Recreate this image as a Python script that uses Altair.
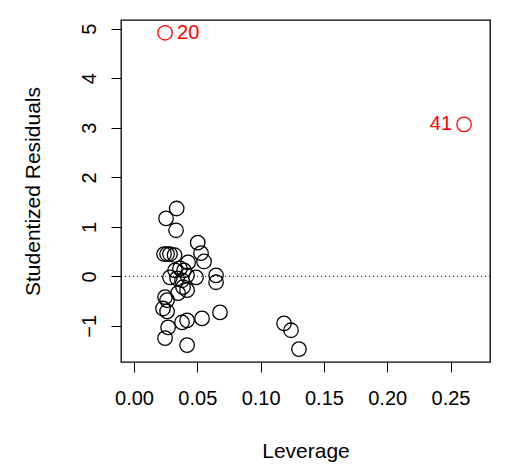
import altair as alt
import pandas as pd

# Ordinary observations
lev = [0.0337, 0.0253, 0.0332, 0.0503, 0.0529, 0.0553,
       0.0237, 0.0261, 0.0284, 0.0320, 0.0427,
       0.0324, 0.0363, 0.0395, 0.0419, 0.0284, 0.0340, 0.0379, 0.0490, 0.0648, 0.0648,
       0.0245, 0.0261, 0.0229, 0.0261, 0.0348, 0.0419, 0.0387,
       0.0269, 0.0379, 0.0419, 0.0537, 0.0679, 0.0245, 0.0419,
       0.1185, 0.1240, 0.1303]
res = [1.37, 1.17, 0.93, 0.68, 0.47, 0.30,
       0.45, 0.45, 0.45, 0.43, 0.28,
       0.12, 0.16, 0.12, 0.02, -0.02, -0.04, -0.08, -0.02, 0.02, -0.12,
       -0.42, -0.48, -0.65, -0.71, -0.34, -0.28, -0.22,
       -1.03, -0.93, -0.89, -0.85, -0.73, -1.25, -1.39,
       -0.95, -1.09, -1.47]

# Labelled (influential) observations
out_id = ["20", "41"]
out_lev = [0.0245, 0.2607]
out_res = [4.92, 3.07]

FONT = "Liberation Sans"

df = pd.DataFrame({"lev": lev, "res": res})
dfo = pd.DataFrame({"id": out_id, "lev": out_lev, "res": out_res})
dfl_left = dfo[dfo["id"] == "20"]
dfl_right = dfo[dfo["id"] == "41"]

xs = alt.Scale(domain=[-0.0103, 0.2812], nice=False, zero=False)
ys = alt.Scale(domain=[-1.731, 5.178], nice=False, zero=False)

xax = alt.Axis(values=[0, 0.05, 0.1, 0.15, 0.2, 0.25], format=".2f", grid=False,
               tickSize=10, tickColor="black", domain=False, labelFontSize=20,
               labelFont=FONT, labelColor="black", labelPadding=16,
               titleFont=FONT, titleFontSize=21, titleFontWeight="normal",
               titleColor="black", titlePadding=32, labelFlush=False)
yax = alt.Axis(values=[-1, 0, 1, 2, 3, 4, 5], format="d", grid=False,
               tickSize=10, tickColor="black", domain=False, labelFontSize=20,
               labelFont=FONT, labelColor="black", labelAngle=-90,
               labelAlign="center", labelBaseline="bottom", labelPadding=12,
               titleFont=FONT, titleFontSize=21, titleFontWeight="normal",
               titleColor="black", titlePadding=36, labelFlush=False)

base = alt.Chart(df).mark_point(shape="circle", size=210, filled=False,
                                color="black", strokeWidth=1.3, opacity=1).encode(
    x=alt.X("lev:Q", scale=xs, axis=xax, title="Leverage"),
    y=alt.Y("res:Q", scale=ys, axis=yax, title="Studentized Residuals"),
)

outpts = alt.Chart(dfo).mark_point(shape="circle", size=210, filled=False,
                                   color="#FF0000", strokeWidth=1.3, opacity=1).encode(
    x=alt.X("lev:Q", scale=xs), y=alt.Y("res:Q", scale=ys))

lab1 = alt.Chart(dfl_left).mark_text(align="left", dx=12, fontSize=20, font=FONT,
                                     color="#FF0000", baseline="middle").encode(
    x=alt.X("lev:Q", scale=xs), y=alt.Y("res:Q", scale=ys), text="id:N")
lab2 = alt.Chart(dfl_right).mark_text(align="right", dx=-12, fontSize=20, font=FONT,
                                      color="#FF0000", baseline="middle").encode(
    x=alt.X("lev:Q", scale=xs), y=alt.Y("res:Q", scale=ys), text="id:N")

zero = alt.Chart(pd.DataFrame({"y": [0]})).mark_rule(
    color="black", strokeDash=[1, 3], strokeWidth=1).encode(
    y=alt.Y("y:Q", scale=ys))

chart = alt.layer(zero, base, outpts, lab1, lab2).properties(
    width=369, height=342,
    autosize=alt.AutoSizeParams(type="none"),
    padding={"left": 121, "top": 20, "right": 29, "bottom": 113},
    background="white",
).configure_view(stroke="black", strokeWidth=1.3)

chart.save("out.html", embed_options={"renderer": "svg", "actions": False})
